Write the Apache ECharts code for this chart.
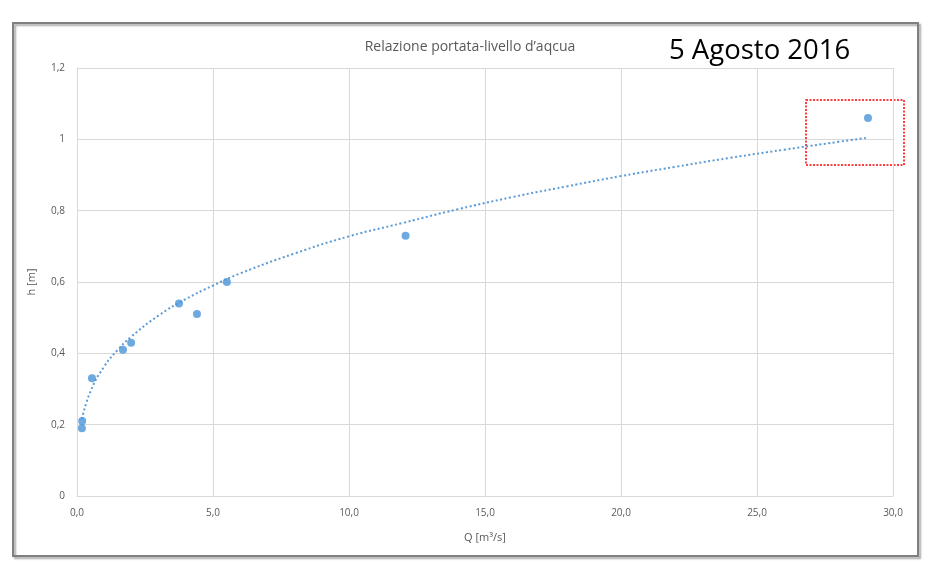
<!DOCTYPE html>
<html>
<head>
<meta charset="utf-8">
<script src="https://cdn.jsdelivr.net/npm/echarts@6/dist/echarts.min.js"></script>
<style>
html,body{margin:0;padding:0;background:#fff;}
#c{width:931px;height:568px;}
</style>
</head>
<body>
<div id="c"></div>
<script>
// Measured points: discharge Q [m3/s] and level h [m]
const qValues = [0.18, 0.19, 0.55, 1.69, 1.99, 3.75, 4.41, 5.51, 12.08, 29.08];
const hValues = [0.19, 0.21, 0.33, 0.41, 0.43, 0.54, 0.51, 0.60, 0.73, 1.06];
// Dotted trend line
const trendQ = [0.18, 0.5, 1, 1.5, 2, 3, 4, 5, 6, 8, 10, 12, 14, 16, 18, 20, 22, 24, 26, 28, 29];
const trendH = [0.216, 0.294, 0.363, 0.410, 0.447, 0.506, 0.552, 0.590, 0.624, 0.680, 0.728, 0.766, 0.804, 0.838, 0.868, 0.897, 0.923, 0.948, 0.971, 0.993, 1.004];
const xTicks = [0, 5, 10, 15, 20, 25, 30];
const yTicks = [0, 0.2, 0.4, 0.6, 0.8, 1, 1.2];
const chartTitle = "Relazione portata-livello d\u2019aqcua";
const dateLabel = "5 Agosto 2016";

const pts = qValues.map((q, i) => [q, hValues[i]]);
const trend = trendQ.map((q, i) => [q, trendH[i]]);
const fmtX = v => v.toFixed(1).replace('.', ',');
const fmtY = v => (Math.abs(v - Math.round(v)) < 1e-9 ? String(Math.round(v)) : v.toFixed(1).replace('.', ','));

const chart = echarts.init(document.getElementById('c'), null, {renderer: 'canvas'});
const labelFont = {color: '#595959', fontSize: 10, fontFamily: 'Open Sans'};
chart.setOption({
  animation: false,
  backgroundColor: '#fff',
  title: {
    text: chartTitle,
    left: 465, top: 35, textAlign: 'center',
    textStyle: {color: '#595959', fontSize: 14, fontWeight: 'normal', fontFamily: 'Open Sans'}
  },
  grid: {left: 77, right: 38, top: 68, bottom: 72, containLabel: false},
  xAxis: {
    type: 'value', min: xTicks[0], max: xTicks[xTicks.length - 1], interval: 5,
    name: 'Q [m\u00b3/s]', nameLocation: 'middle', nameGap: 36,
    nameTextStyle: {color: '#595959', fontSize: 11, fontFamily: 'Open Sans'},
    axisLine: {show: true, lineStyle: {color: '#d9d9d9', width: 1}},
    axisTick: {show: false},
    axisLabel: Object.assign({formatter: fmtX, margin: 12}, labelFont),
    splitLine: {show: true, lineStyle: {color: '#d9d9d9', width: 1}}
  },
  yAxis: {
    type: 'value', min: yTicks[0], max: yTicks[yTicks.length - 1], interval: 0.2,
    name: 'h [m]', nameLocation: 'middle', nameGap: 40, nameRotate: 90,
    nameTextStyle: {color: '#595959', fontSize: 11, fontFamily: 'Open Sans'},
    axisLine: {show: true, lineStyle: {color: '#d9d9d9', width: 1}},
    axisTick: {show: false},
    axisLabel: Object.assign({formatter: fmtY, margin: 12}, labelFont),
    splitLine: {show: true, lineStyle: {color: '#d9d9d9', width: 1}}
  },
  series: [
    {
      type: 'line', data: trend, smooth: true, symbol: 'none', z: 2,
      lineStyle: {color: '#5b9bd5', width: 2, type: [2, 2.5]}
    },
    {
      type: 'scatter', data: pts, symbol: 'circle', symbolSize: 8, z: 3,
      itemStyle: {color: '#4a93d8'}
    }
  ],
  graphic: [
    {type: 'rect', z: -1, shape: {x: 13, y: 23, width: 905, height: 533},
     style: {fill: 'none', stroke: '#7f7f7f', lineWidth: 2, shadowColor: 'rgba(0,0,0,0.35)', shadowBlur: 2, shadowOffsetX: 2, shadowOffsetY: 2}},
    {type: 'text', left: 669, top: 37, style: {text: dateLabel, fill: '#000', fontSize: 27.5, fontFamily: 'Open Sans'}},
    {type: 'rect', shape: {x: 806, y: 100, width: 98, height: 65},
     style: {fill: 'none', stroke: '#ff0000', lineWidth: 1.5, lineDash: [2, 1.5]}}
  ]
});
</script>
</body>
</html>
